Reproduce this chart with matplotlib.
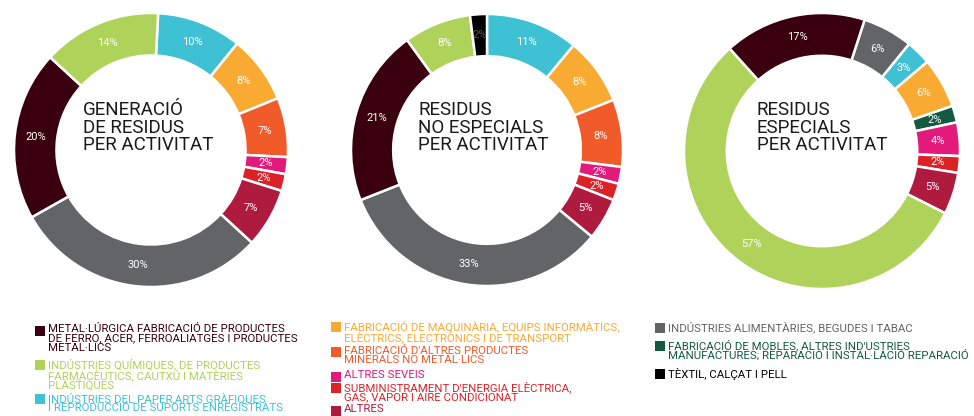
import numpy as np
import matplotlib.pyplot as plt
from matplotlib.patches import Rectangle

# colours per activity
colors = {
    "metal": "#3b0010",
    "quimiques": "#afd25a",
    "paper": "#3ec1d3",
    "maquinaria": "#f9aa33",
    "minerals": "#f15a29",
    "serveis": "#e3197b",
    "energia": "#dc2127",
    "altres": "#ae1b3f",
    "alimentaries": "#636466",
    "mobles": "#135a41",
    "textil": "#000000",
}

gen_cats = ["paper", "maquinaria", "minerals", "serveis", "energia", "altres",
            "alimentaries", "metal", "quimiques"]
gen_vals = [10, 8, 7, 2, 2, 7, 30, 20, 14]

noesp_cats = ["paper", "maquinaria", "minerals", "serveis", "energia", "altres",
              "alimentaries", "metal", "quimiques", "textil"]
noesp_vals = [11, 8, 8, 2, 2, 5, 33, 21, 8, 2]

esp_cats = ["alimentaries", "paper", "maquinaria", "mobles", "serveis", "energia",
            "altres", "quimiques", "metal"]
esp_vals = [6, 3, 6, 2, 4, 2, 5, 57, 17]

titles = ["GENERACIÓ\nDE RESIDUS\nPER ACTIVITAT",
          "RESIDUS\nNO ESPECIALS\nPER ACTIVITAT",
          "RESIDUS\nESPECIALS\nPER ACTIVITAT"]

legend_cols = [
    [("metal", "METAL·LÚRGICA FABRICACIÓ DE PRODUCTES\nDE FERRO, ACER, FERROALIATGES I PRODUCTES\nMETAL·LICS"),
     ("quimiques", "INDÚSTRIES QUÍMIQUES, DE PRODUCTES\nFARMACÈUTICS, CAUTXÚ I MATÈRIES\nPLÀSTIQUES"),
     ("paper", "INDÚSTRIES DEL PAPER,ARTS GRÀFIQUES\nI REPRODUCCIÓ DE SUPORTS ENREGISTRATS")],
    [("maquinaria", "FABRICACIÓ DE MAQUINÀRIA, EQUIPS INFORMÀTICS,\nELÈCTRICS, ELECTRÒNICS I DE TRANSPORT"),
     ("minerals", "FABRICACIÓ D'ALTRES PRODUCTES\nMINERALS NO METÀL·LICS"),
     ("serveis", "ALTRES SEVEIS"),
     ("energia", "SUBMINISTRAMENT D'ENERGIA ELÈCTRICA,\nGAS, VAPOR I AIRE CONDICIONAT"),
     ("altres", "ALTRES")],
    [("alimentaries", "INDÚSTRIES ALIMENTÀRIES, BEGUDES I TABAC"),
     ("mobles", "FABRICACIÓ DE MOBLES, ALTRES IND'USTRIES\nMANUFACTURES; REPARACIÓ I INSTAL·LACIÓ REPARACIÓ"),
     ("textil", "TÈXTIL, CALÇAT I PELL")],
]

W, H = 974, 416
fig = plt.figure(figsize=(W / 100, H / 100), dpi=100)
ax = fig.add_axes([0, 0, 1, 1])

title_font = ["Roboto", "DejaVu Sans"]
legend_font = ["Roboto", "DejaVu Sans"]

charts = [
    (gen_cats, gen_vals, (151, 150), 137, 87, (83, 101)),
    (noesp_cats, noesp_vals, (487, 150), 136, 90, (418, 101)),
    (esp_cats, esp_vals, (822, 151), 138, 72, (757, 101)),
]

for i, (cats, vals, (cx, cy), R, start, (tx, ty)) in enumerate(charts):
    wedges, _ = ax.pie(vals, colors=[colors[c] for c in cats], startangle=start,
                       counterclock=False, center=(cx, H - cy), radius=R,
                       wedgeprops=dict(width=R * 0.31, edgecolor="white", linewidth=1.8))
    for w, v, c in zip(wedges, vals, cats):
        ang = np.deg2rad((w.theta1 + w.theta2) / 2)
        rr = R * 0.845
        col = "white" if c != "textil" else "#555555"
        ax.text(cx + rr * np.cos(ang), H - cy + rr * np.sin(ang), f"{v}%",
                ha="center", va="center", color=col, fontsize=8,
                family=title_font)
    ax.text(tx, H - ty, titles[i], ha="left", va="top", fontsize=13.5,
            family=title_font, fontweight="normal", color="#1a1a1a",
            linespacing=0.98)

# legend: y = cap top of the first line of each entry
col_x = [35, 331, 655]
col_y = [[326, 360, 394], [322, 347, 372, 383, 406], [323, 341, 369]]
for x0, ys, entries in zip(col_x, col_y, legend_cols):
    for y0, (key, label) in zip(ys, entries):
        ax.add_patch(Rectangle((x0, H - y0 - 9.5), 9.5, 9.5, color=colors[key], lw=0))
        ax.text(x0 + 13, H - y0 + 1.5, label, ha="left", va="top", fontsize=8.2,
                family=legend_font, color=colors[key], linespacing=0.88)

ax.set_xlim(0, W)
ax.set_ylim(0, H)
ax.set_aspect("auto")
ax.axis("off")

fig.savefig("out.png", dpi=100)
